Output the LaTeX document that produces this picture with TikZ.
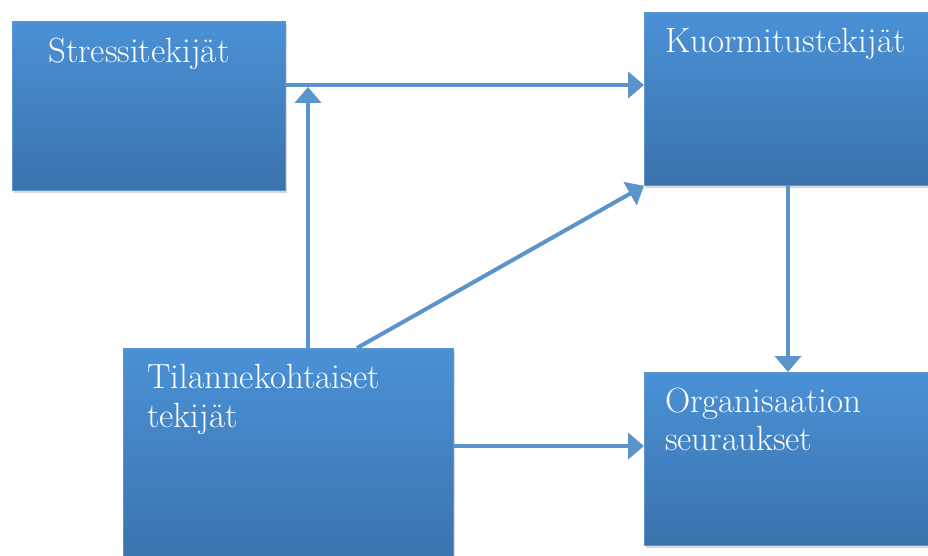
\documentclass[tikz,border=0pt]{standalone}
\usepackage{fontspec}
\usetikzlibrary{arrows.meta,shadows,calc}
\definecolor{boxtop}{RGB}{74,145,214}
\definecolor{boxbot}{RGB}{58,114,172}
\definecolor{boxline}{RGB}{96,148,204}
\definecolor{arrcol}{RGB}{91,148,203}
\begin{document}
\begin{tikzpicture}[x=1pt,y=-1pt,
  box/.style={rectangle, anchor=north west, inner sep=0pt, draw=boxline, line width=0.8pt,
    top color=boxtop, bottom color=boxbot,
    drop shadow={opacity=0.3, shadow xshift=1.5pt, shadow yshift=-3pt}},
  lbl/.style={anchor=base west, inner sep=0pt, text=white, font=\fontsize{35}{39}\selectfont, align=left},
  arr/.style={draw=arrcol, line width=4pt, -{Triangle[width=26pt,length=16pt]}}]
\useasboundingbox (0,0) rectangle (928,556);
\clip (0,0) rectangle (928,556);
\node[box, minimum width=273pt, minimum height=169pt] (s) at (12,21) {};
\node[box, minimum width=300pt, minimum height=173pt] (k) at (644,12) {};
\node[box, minimum width=330pt, minimum height=220pt] (t) at (123,348) {};
\node[box, minimum width=300pt, minimum height=173pt] (o) at (644,372) {};
\node[lbl] (sl) at (48,63) {Stressitekijät};
\node[lbl] (kl) at (665,53) {Kuormitustekijät};
\node[lbl] (tl1) at (147,388) {Tilannekohtaiset};
\node[lbl] (tl2) at (147,427) {tekijät};
\node[lbl] (ol1) at (665,412) {Organisaation};
\node[lbl] (ol2) at (665,450) {seuraukset};
\coordinate (a1) at ($(s.north east)+(0,64)$);
\coordinate (a2) at ($(t.north west)+(185,0)$);
\coordinate (a3) at ($(t.north west)+(234,0)$);
\coordinate (a4) at ($(k.south west)+(144,0)$);
\coordinate (a5) at ($(t.north east)+(0,98)$);
\draw[arr] (a1) -- (a1 -| k.west);
\draw[arr] (a2) -- ($(a2 |- a1)+(0,2)$);
\draw[arr] (a3) -- (k.south west);
\draw[arr] (a4) -- (a4 |- o.north);
\draw[arr] (a5) -- (a5 -| o.west);
\end{tikzpicture}
\end{document}
